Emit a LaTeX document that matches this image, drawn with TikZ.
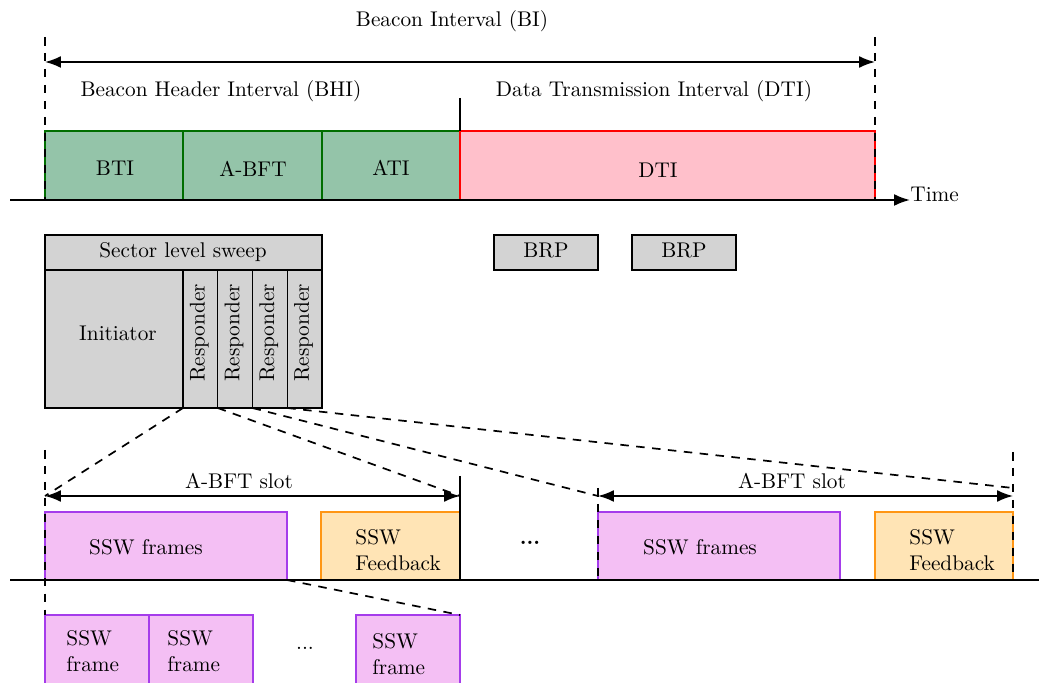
\documentclass[tikz,border=0pt]{standalone}
\usetikzlibrary{arrows.meta,fit}
\definecolor{bhigreen}{RGB}{148,196,169}
\definecolor{bhiborder}{RGB}{0,110,0}
\definecolor{dtifill}{RGB}{255,192,203}
\definecolor{sswfill}{RGB}{244,191,244}
\definecolor{sswborder}{RGB}{165,60,235}
\definecolor{fbfill}{RGB}{255,228,181}
\definecolor{fbborder}{RGB}{255,150,20}
\definecolor{slsgray}{RGB}{211,211,211}
\begin{document}
\begin{tikzpicture}[x=0.47pt,y=-0.47pt,
  box/.style={draw, inner sep=0pt, outer sep=0pt, semithick},
  greenbox/.style={box, fill=bhigreen, draw=bhiborder},
  dtibox/.style={box, fill=dtifill, draw=red},
  graybox/.style={box, fill=slsgray, draw=black},
  sswbox/.style={box, fill=sswfill, draw=sswborder},
  fbbox/.style={box, fill=fbfill, draw=fbborder},
  span/.style={{Latex[length=7.5pt,width=5.6pt]}-{Latex[length=7.5pt,width=5.6pt]}, thick},
  axis/.style={line width=0.9pt},
  guide/.style={dash pattern=on 4pt off 3.5pt, thick},
  lbl/.style={inner sep=0pt}
]
\useasboundingbox (0,0) rectangle (1039,683);
\clip (0,0) rectangle (1039,683);

% ---- top timeline ----
\node[greenbox, fit={(45,131)(183,200)}] (bti) {};
\node[greenbox, fit={(183,131)(322,200)}] (abft) {};
\node[greenbox, fit={(322,131)(460,200)}] (ati) {};
\node[dtibox, fit={(460,131)(875,200)}] (dti) {};
\node[lbl] (btit) at (115,168) {BTI};
\node[lbl] (abftt) at (253,169) {A-BFT};
\node[lbl] (atit) at (391,168) {ATI};
\node[lbl] (dtit) at (658,170) {DTI};

\coordinate (biL) at (45,62);
\coordinate (biR) at (875,62);
\coordinate (gl) at (45,37);
\coordinate (gr) at (875,37);
\draw[guide] (gl) -- (bti.south west);
\draw[guide] (gr) -- (dti.south east);
\draw[span] (biL) -- (biR);
\node[lbl] (bilabel) at (452,21) {Beacon Interval (BI)};
\node[lbl] (bhilabel) at (221,91) {Beacon Header Interval (BHI)};
\node[lbl] (dtilabel) at (654,91) {Data Transmission Interval (DTI)};
\coordinate (sep) at (460,98);
\draw[semithick] (sep) -- (dti.north west);

\coordinate (t0) at (10,200);
\coordinate (t1) at (910,200);
\draw[axis, -{Latex[length=7.5pt,width=5.6pt]}] (t0) -- (t1);
\node[lbl, anchor=west] (time) at (910,194) {Time};

% ---- sector level sweep ----
\node[graybox, fit={(45,235)(322,270)}] (sls) {};
\node[lbl] (slst) at (183,252) {Sector level sweep};
\node[graybox, fit={(45,270)(183,408)}] (init) {};
\node[lbl] (initt) at (118,333) {Initiator};
\node[graybox, fit={(183,270)(217.75,408)}] (r1) {};
\node[graybox, fit={(217.75,270)(252.5,408)}] (r2) {};
\node[graybox, fit={(252.5,270)(287.25,408)}] (r3) {};
\node[graybox, fit={(287.25,270)(322,408)}] (r4) {};
\node[lbl, rotate=90] (r1t) at (199.4,333) {Responder};
\node[lbl, rotate=90] (r2t) at (234.1,333) {Responder};
\node[lbl, rotate=90] (r3t) at (268.9,333) {Responder};
\node[lbl, rotate=90] (r4t) at (303.6,333) {Responder};

\node[graybox, fit={(494,235)(598,270)}] (brp1) {};
\node[graybox, fit={(632,235)(736,270)}] (brp2) {};
\node[lbl] (brp1t) at (546,250) {BRP};
\node[lbl] (brp2t) at (684,250) {BRP};

% ---- A-BFT slots ----
\node[sswbox, fit={(45,512)(287,580)}] (ssw1) {};
\node[fbbox, fit={(321,512)(460,580)}] (fb1) {};
\node[sswbox, fit={(598,512)(840,580)}] (ssw2) {};
\node[fbbox, fit={(875,512)(1013,580)}] (fb2) {};
\node[lbl] (ssw1t) at (146,547) {SSW frames};
\node[lbl] (ssw2t) at (700,547) {SSW frames};
\node[lbl, anchor=west, align=left] (fb1t) at (355,550) {SSW\\Feedback};
\node[lbl, anchor=west, align=left] (fb2t) at (909,550) {SSW\\Feedback};
\node[lbl] (dots1) at (530,543) {\textbf{...}};

\coordinate (s1L) at (45,496);
\coordinate (s1R) at (460,496);
\coordinate (s2L) at (598,496);
\coordinate (s2R) at (1013,496);
\coordinate (s2top) at (1013,488);
\draw[guide] (r1.south west) -- (s1L);
\draw[guide] (r2.south west) -- (s1R);
\draw[guide] (r3.south west) -- (s2L);
\draw[guide] (r4.south west) -- (s2top);
\draw[span] (s1L) -- (s1R);
\draw[span] (s2L) -- (s2R);
\node[lbl] (slot1) at (239,481) {A-BFT slot};
\node[lbl] (slot2) at (792,481) {A-BFT slot};

\coordinate (a0) at (10,580);
\coordinate (a1) at (1039,580);
\draw[axis] (a0) -- (a1);

% ---- SSW frames detail ----
\node[sswbox, fit={(45,615)(149,700)}] (f1) {};
\node[sswbox, fit={(149,615)(253,700)}] (f2) {};
\node[sswbox, fit={(356,615)(460,700)}] (f3) {};
\node[lbl, anchor=west, align=left] (f1t) at (66,651) {SSW\\frame};
\node[lbl, anchor=west, align=left] (f2t) at (167,651) {SSW\\frame};
\node[lbl, anchor=west, align=left] (f3t) at (372,654) {SSW\\frame};
\node[lbl] (dots2) at (305,648) {...};
\draw[guide] (ssw1.south east) -- (f3.north east);

\coordinate (v1a) at (45,450);
\coordinate (v1b) at (45,615);
\draw[guide] (v1a) -- (v1b);
\coordinate (v2a) at (460,476);
\draw[semithick] (v2a) -- (fb1.south east);
\coordinate (v3a) at (598,488);
\draw[guide] (v3a) -- (ssw2.south west);
\coordinate (v4a) at (1013,452);
\draw[guide] (v4a) -- (fb2.south east);
\end{tikzpicture}
\end{document}
